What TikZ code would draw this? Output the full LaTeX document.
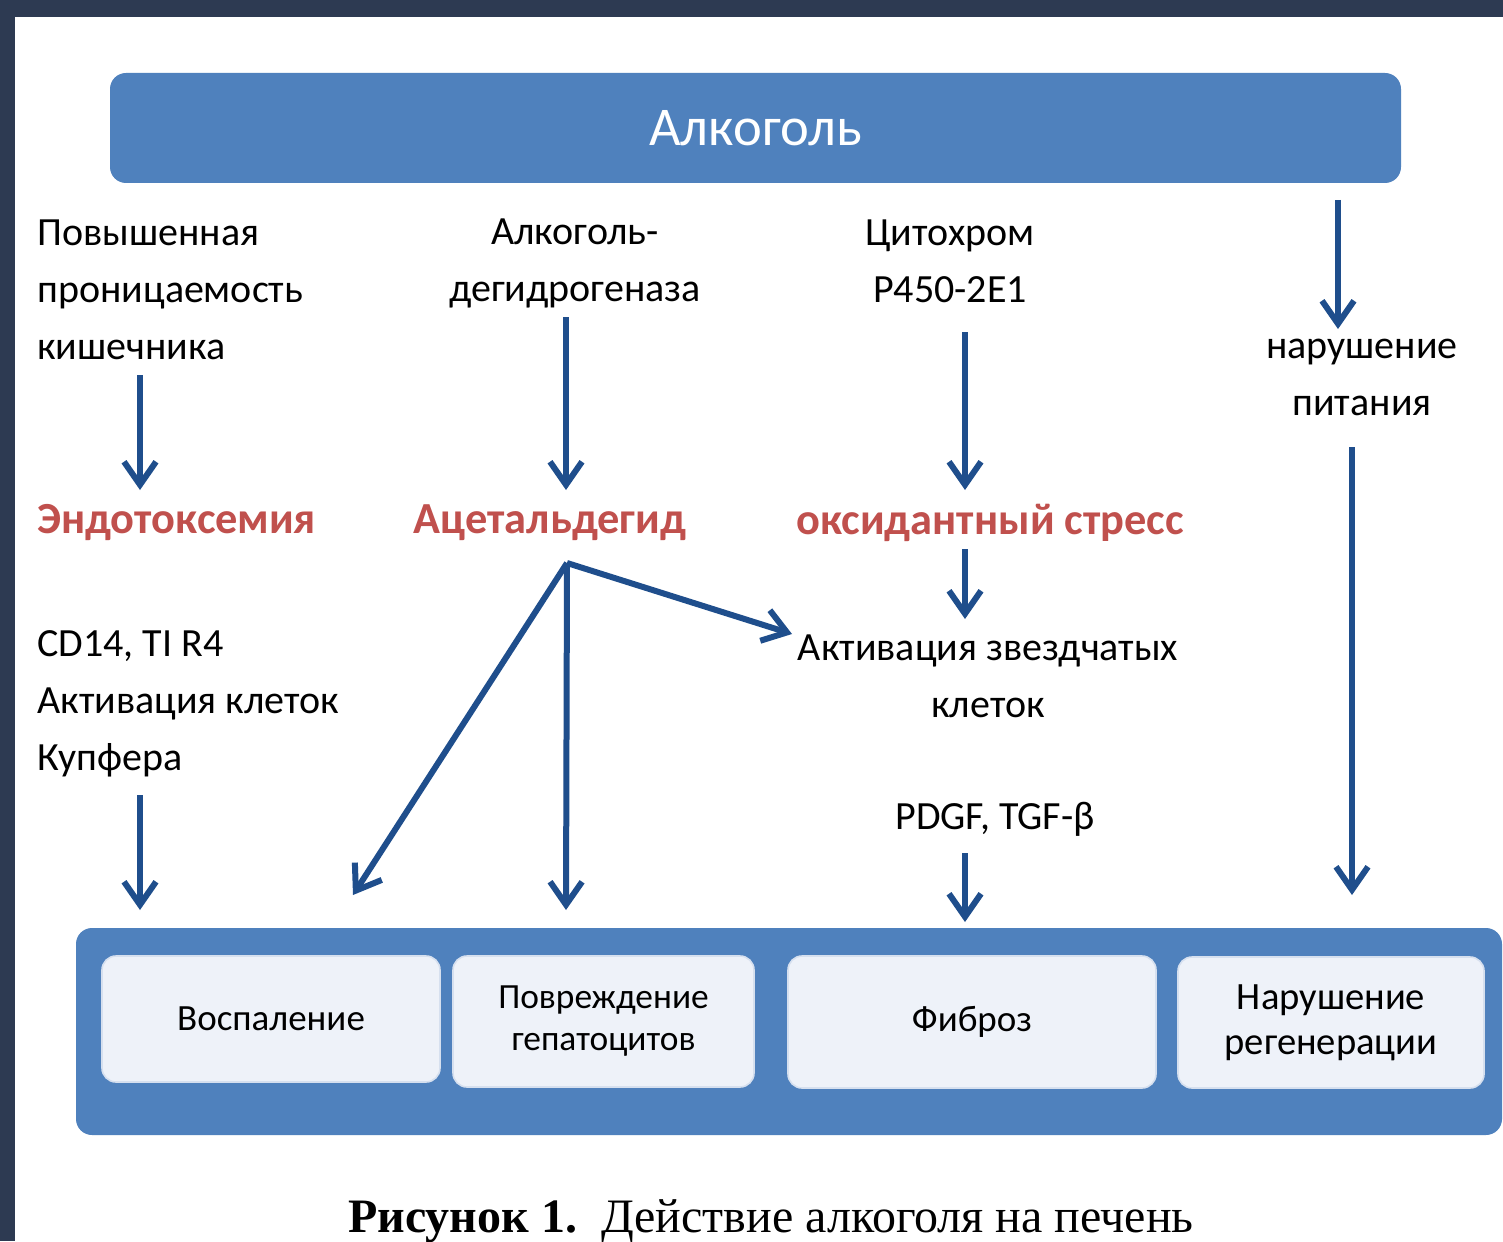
\documentclass[tikz,border=0pt]{standalone}
\usepackage{fontspec}
\setmainfont{Carlito}
\newfontfamily\capfont{Liberation Serif}
\usetikzlibrary{arrows.meta}
\definecolor{framecol}{HTML}{2D3A52}
\definecolor{boxblue}{HTML}{4F81BD}
\definecolor{arrblue}{HTML}{1F4E8C}
\definecolor{redtxt}{HTML}{C0504D}
\definecolor{cellfill}{HTML}{EEF2F9}
\definecolor{cellline}{HTML}{D6E0EF}
\begin{document}
\begin{tikzpicture}[x=0.5pt,y=-0.5pt,
  txt/.style={inner sep=0pt, font=\fontsize{20pt}{28.5pt}\selectfont, text=black},
  lefttxt/.style={txt, align=left, anchor=west},
  ctxt/.style={txt, align=center},
  redlbl/.style={inner sep=0pt, font=\fontsize{22.2pt}{26pt}\selectfont\bfseries, text=redtxt},
  arr/.style={draw=arrblue, line width=3pt, -{Straight Barb[length=11.5pt,width=16pt]}},
  bigbox/.style={fill=boxblue, rounded corners=8pt, inner sep=0pt},
  cell/.style={draw=cellline, line width=0.8pt, fill=cellfill, rounded corners=7pt, inner sep=0pt, align=center, font=\fontsize{18.5pt}{21pt}\selectfont}
]
\useasboundingbox (0,0) rectangle (1503,1241);
\fill[white] (0,0) rectangle (1503,1241);
\fill[framecol] (0,0) rectangle (1503,17);
\fill[framecol] (0,0) rectangle (15,1241);

% top box
\node[bigbox, minimum width=645.5pt, minimum height=55pt, text=white,
      font=\fontsize{27.3pt}{31pt}\selectfont] (alc) at (755.5,128) {Алкоголь};

% texts
\node[lefttxt] (perm) at (37,290) {Повышенная\\проницаемость\\кишечника};
\node[ctxt] (adh) at (575,263) {Алкоголь-\\дегидрогеназа};
\node[ctxt] (cyp) at (950,261) {Цитохром\\P450-2E1};
\node[ctxt] (nutr) at (1362,377) {нарушение\\питания};

\node[redlbl, anchor=west] (endo) at (37,523) {Эндотоксемия};
\node[redlbl] (acet) at (550,523) {Ацетальдегид};
\node[redlbl] (oxy) at (990,523) {оксидантный стресс};

\node[lefttxt] (cd) at (37,704) {CD14, TI R4\\Активация клеток\\Купфера};
\node[ctxt] (stel) at (988,676) {Активация звездчатых\\клеток};
\node[ctxt] (pdgf) at (995,819) {PDGF, TGF-β};

% bottom box
\node[bigbox, minimum width=713pt, minimum height=103.5pt] (liver) at (789,1031.5) {};
\node[cell, minimum width=169pt, minimum height=63pt] (c1) at (271,1019) {Воспаление};
\node[cell, minimum width=150.5pt, minimum height=65.5pt, font=\fontsize{17.7pt}{21pt}\selectfont] (c2) at (603.5,1021.5) {Повреждение\\гепатоцитов};
\node[cell, minimum width=184pt, minimum height=66pt] (c3) at (972,1022) {Фиброз};
\node[cell, minimum width=153pt, minimum height=65.5pt, font=\fontsize{19.3pt}{22.5pt}\selectfont] (c4) at (1331,1022.5) {Нарушение\\регенерации};

% arrow end points
\coordinate (p1s) at (140,375);  \coordinate (p1e) at (140,490);
\coordinate (p2s) at (566,317);  \coordinate (p2e) at (566,490);
\coordinate (p3s) at (965,332);  \coordinate (p3e) at (965,490);
\coordinate (p4s) at (965,549);  \coordinate (p4e) at (965,619);
\coordinate (p5s) at (1338,200); \coordinate (p5e) at (1338,329);
\coordinate (p6s) at (1352,447); \coordinate (p6e) at (1352,895);
\coordinate (p7s) at (140,795);  \coordinate (p7e) at (140,910);
\coordinate (p8s) at (965,853);  \coordinate (p8e) at (965,922);
\coordinate (br) at (567,563);
\coordinate (b1e) at (353,895);
\coordinate (b2e) at (566,910);
\coordinate (b3e) at (792,634);

\draw[arr] (p1s) -- (p1e);
\draw[arr] (p2s) -- (p2e);
\draw[arr] (p3s) -- (p3e);
\draw[arr] (p4s) -- (p4e);
\draw[arr] (p5s) -- (p5e);
\draw[arr] (p6s) -- (p6e);
\draw[arr] (p7s) -- (p7e);
\draw[arr] (p8s) -- (p8e);
\draw[arr] (br) -- (b1e);
\draw[arr] (br) -- (b2e);
\draw[arr] (br) -- (b3e);

% caption
\node[anchor=base, inner sep=0pt, font=\capfont\fontsize{24pt}{28pt}\selectfont] (cap) at (771,1232)
  {\textbf{Рисунок 1.}\hspace{12pt}Действие алкоголя на печень};
\end{tikzpicture}
\end{document}
